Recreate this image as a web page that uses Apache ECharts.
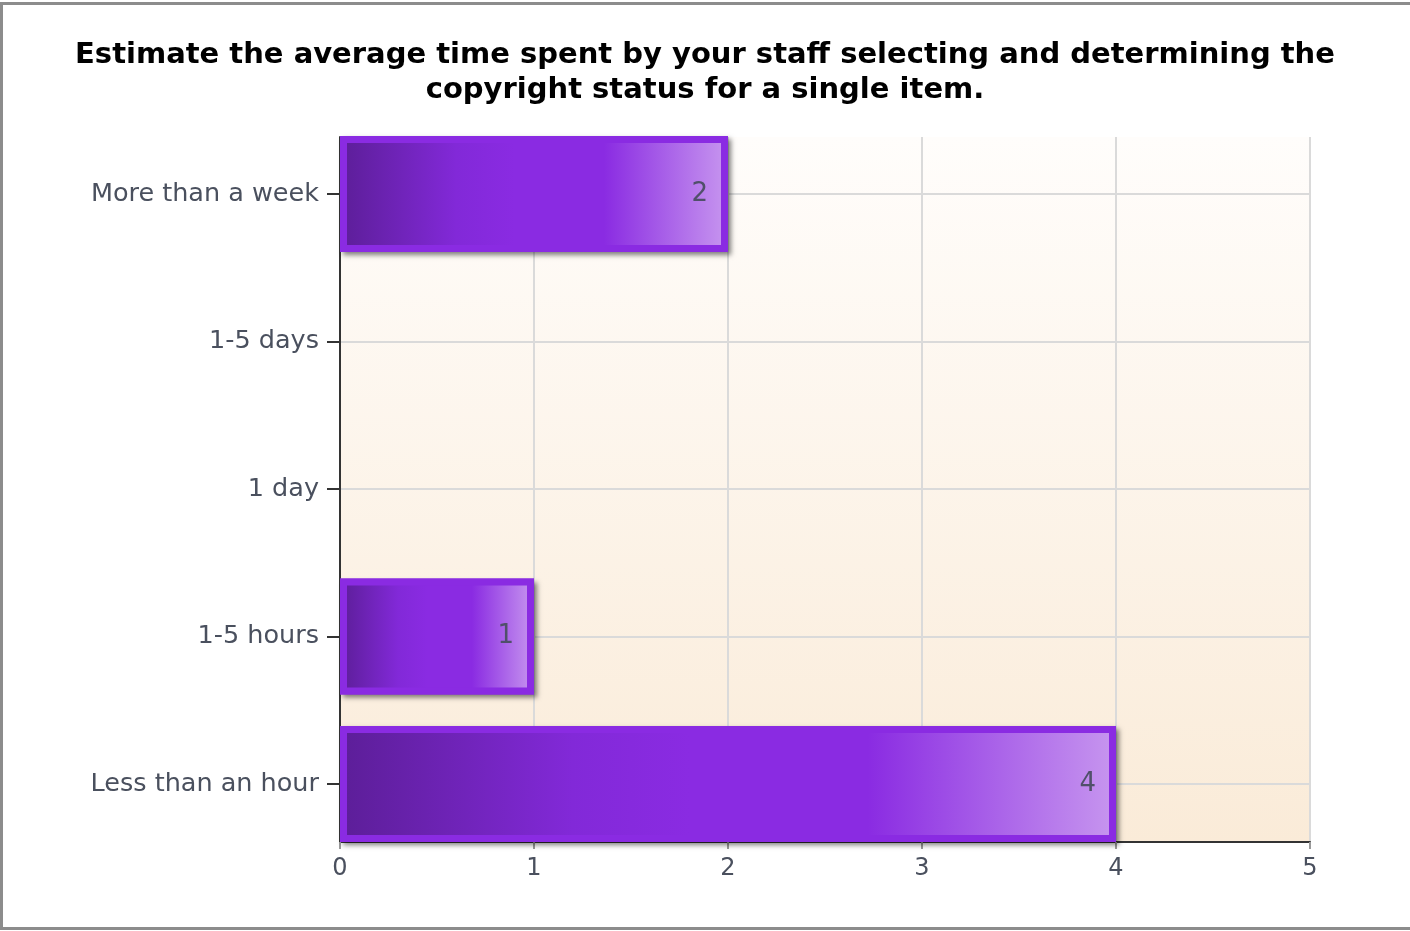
<!DOCTYPE html>
<html>
<head>
<meta charset="utf-8">
<script src="https://cdn.jsdelivr.net/npm/echarts@6/dist/echarts.min.js"></script>
<style>
  html, body { margin: 0; padding: 0; background: #fff; }
  #main { width: 1410px; height: 931px; }
</style>
</head>
<body>
<div id="main"></div>
<script>
// 数据
var categories = ['More than a week', '1-5 days', '1 day', '1-5 hours', 'Less than an hour'];
var counts = [2, 0, 0, 1, 4];
var xTicks = [0, 1, 2, 3, 4, 5];
var titleLines = [
    'Estimate the average time spent by your staff selecting and determining the',
    'copyright status for a single item.'
];

var catIndex = categories.map(function (c, i) { return i; });
var labelFont = 'DejaVu Sans';
var barData = counts.map(function (v) { return v === 0 ? '-' : v; });

var myChart = echarts.init(document.getElementById('main'));

var barFill = new echarts.graphic.LinearGradient(0, 0, 1, 0, [
    { offset: 0, color: '#5c1e98' },
    { offset: 0.3, color: '#8229d8' },
    { offset: 0.45, color: '#8a2be2' },
    { offset: 0.68, color: '#8a2be2' },
    { offset: 1, color: '#c796ef' }
]);

var option = {
    animation: false,
    title: {
        text: titleLines.join('\n'),
        left: 'center',
        top: 33,
        textStyle: {
            fontFamily: labelFont,
            fontWeight: 'bold',
            fontSize: 29,
            lineHeight: 35,
            color: '#000'
        }
    },
    graphic: [{
        type: 'rect',
        shape: { x: 1.5, y: 3.5, width: 1440, height: 925 },
        style: { fill: null, stroke: '#8c8c8c', lineWidth: 3 },
        silent: true
    }],
    grid: [
        // 背景框
        {
            left: 340, top: 137, width: 970, height: 705,
            show: true,
            borderWidth: 0,
            backgroundColor: new echarts.graphic.LinearGradient(0, 0, 0, 1, [
                { offset: 0, color: '#fffdfb' },
                { offset: 1, color: '#faebd8' }
            ])
        },
        // 柱子
        { left: 340, top: 120.25, width: 970, height: 737.5 }
    ],
    xAxis: [
        {
            gridIndex: 0,
            type: 'value',
            min: xTicks[0],
            max: xTicks[xTicks.length - 1],
            interval: 1,
            axisLine: { show: true, onZero: false, lineStyle: { color: '#333', width: 2 } },
            axisTick: { show: true, length: 7, lineStyle: { color: '#999', width: 2 } },
            axisLabel: { margin: 15, fontFamily: labelFont, fontSize: 24, color: '#4a505e' },
            splitLine: { show: true, lineStyle: { color: '#dadada', width: 2 } }
        },
        {
            gridIndex: 1,
            type: 'value',
            min: xTicks[0],
            max: xTicks[xTicks.length - 1],
            show: false
        }
    ],
    yAxis: [
        {
            gridIndex: 0,
            type: 'value',
            inverse: true,
            min: -0.386,
            max: categories.length - 1 + 0.394,
            axisLine: { show: true, onZero: false, lineStyle: { color: '#333', width: 2 } },
            axisTick: { show: true, length: 13, customValues: catIndex, lineStyle: { color: '#333', width: 2 } },
            axisLabel: {
                customValues: catIndex,
                margin: 21,
                fontFamily: labelFont,
                fontSize: 25.5,
                color: '#4a505e',
                formatter: function (v) { return categories[Math.round(v)]; }
            },
            splitLine: { show: true, lineStyle: { color: '#dadada', width: 2 } }
        },
        {
            gridIndex: 1,
            type: 'category',
            inverse: true,
            data: categories,
            show: false
        }
    ],
    series: [
        // 阴影层
        {
            name: 'shadow',
            type: 'bar',
            xAxisIndex: 1,
            yAxisIndex: 1,
            barWidth: 116,
            barGap: '-100%',
            data: barData,
            silent: true,
            itemStyle: {
                color: '#8a2be2',
                shadowColor: 'rgba(0,0,0,0.5)',
                shadowBlur: 5,
                shadowOffsetX: 3,
                shadowOffsetY: 3
            }
        },
        {
            name: 'count',
            type: 'bar',
            xAxisIndex: 1,
            yAxisIndex: 1,
            barWidth: 116,
            barGap: '-100%',
            data: barData,
            itemStyle: {
                color: barFill,
                borderColor: '#8a2be2',
                borderWidth: 7
            },
            label: {
                show: true,
                position: 'insideRight',
                distance: 20,
                fontFamily: labelFont,
                fontSize: 26,
                color: '#50506a'
            }
        }
    ]
};

myChart.setOption(option);
</script>
</body>
</html>
